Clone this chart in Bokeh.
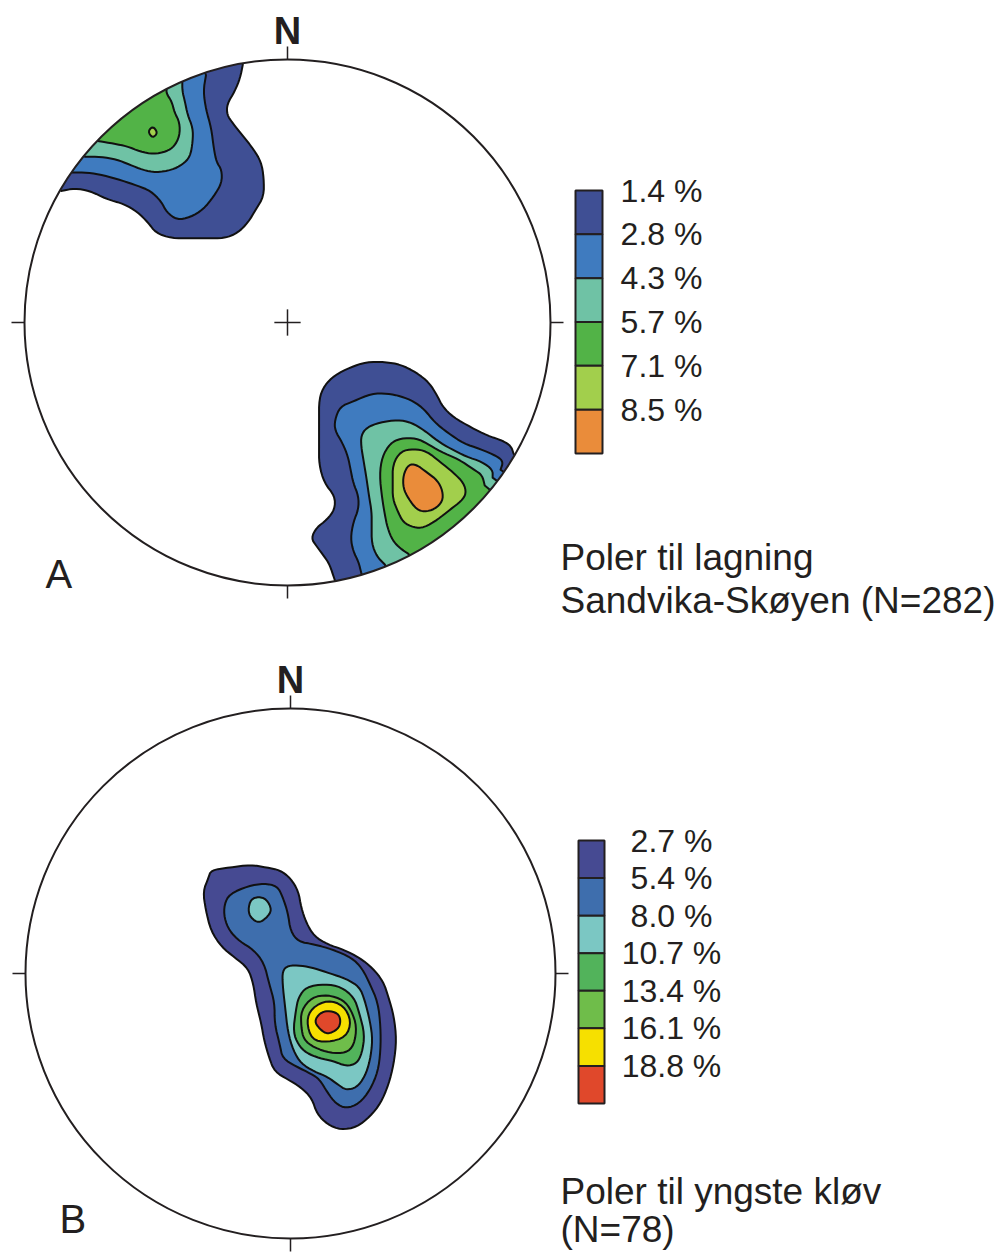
import math
from bokeh.plotting import figure
from bokeh.models import Range1d
from bokeh.embed import file_html
from bokeh.resources import INLINE
from bokeh.core.properties import value

# ---------------- DATA ----------------
# Contour outlines digitised from the nets, in net units (primitive radius = 100),
# x towards east, y towards north. Open outlines start and end on the primitive.

# Diagram A - poles to bedding
A_LEVELS = ["1.4 %", "2.8 %", "4.3 %", "5.7 %", "7.1 %", "8.5 %"]
A_COLORS = ["#3f4f94", "#3f7bbf", "#6fc2a5", "#52b347", "#a2cf4c", "#ea8c3a"]
A_TITLE = ["Poler til lagning", "Sandvika-Skøyen (N=282)"]
A_LETTER = "A"

A_NW_14 = [(-86, 50), (-81, 51), (-75, 50), (-69, 47), (-62, 45), (-57, 42), (-53, 38), (-50, 34),
           (-44, 32), (-37, 32), (-31, 32), (-24, 32), (-19, 34), (-15, 38), (-12, 43), (-9, 48),
           (-9, 55), (-10, 61), (-13, 66), (-17, 71), (-21, 76), (-23, 79), (-23, 83), (-20, 88),
           (-18, 93), (-17, 98)]
A_NW_28 = [(-82, 57), (-76, 57), (-70, 56), (-63, 54), (-57, 52), (-52, 50), (-48, 46), (-46, 42),
           (-42, 39), (-37, 40), (-32, 43), (-28, 48), (-25, 53), (-25, 58), (-27, 61), (-28, 66),
           (-29, 74), (-31, 81), (-32, 88), (-31, 94)]
A_NW_43 = [(-77, 63), (-71, 63), (-65, 62), (-60, 60), (-55, 58), (-50, 57), (-44, 58), (-40, 60),
           (-37, 63), (-36, 69), (-36, 74), (-38, 79), (-39, 84), (-40, 88), (-40, 92)]
A_NW_57 = [(-72, 69), (-66, 68), (-61, 67), (-56, 65), (-51, 64), (-46, 65), (-43, 67), (-41, 71),
           (-41, 76), (-43, 80), (-44, 84), (-46, 87), (-46, 89)]
A_NW_71 = [(-51.2, 74.7), (-49.3, 72.1), (-51.3, 70.1), (-53.1, 72.6)]

A_SE_14 = [(18, -98), (16, -92), (14, -89), (11, -85), (9, -82), (11, -78), (15, -75), (18, -71),
           (18, -66), (14, -61), (12, -54), (12, -47), (12, -38), (12, -29), (14, -24), (18, -20),
           (24, -17), (30, -15), (37, -15), (43, -16), (49, -19), (54, -23), (57, -28), (59, -32),
           (63, -36), (70, -40), (76, -43), (82, -45), (85, -47), (86, -50)]
A_SE_28 = [(28, -95), (27, -91), (25, -87), (24, -82), (25, -76), (27, -71), (27, -66), (25, -61),
           (24, -56), (23, -51), (21, -46), (18, -41), (18, -37), (20, -32), (25, -30), (32, -27),
           (38, -27), (43, -28), (48, -30), (52, -33), (56, -38), (61, -42), (67, -46), (73, -48),
           (80, -51), (82, -53), (81, -56)]
A_SE_43 = [(37, -92), (34, -89), (32, -84), (32, -77), (32, -72), (31, -66), (30, -59), (29, -53),
           (28, -47), (28, -43), (30, -40), (35, -38), (42, -37), (47, -38), (52, -41), (57, -45),
           (62, -48), (68, -51), (74, -53), (78, -56), (78, -59)]
A_SE_57 = [(46, -88), (43, -86), (40, -83), (38, -78), (37, -73), (36, -67), (35, -58), (36, -51),
           (39, -46), (43, -44), (49, -44), (53, -46), (58, -49), (65, -52), (71, -56), (74, -58),
           (75, -62)]
A_SE_71 = [(43, -49), (48, -48), (53, -49), (58, -53), (63, -57), (67, -61), (68, -65), (66, -68),
           (62, -71), (57, -75), (52, -78), (48, -78), (44, -76), (42, -72), (40, -67), (40, -61),
           (40, -54)]
A_SE_85 = [(46, -54), (49, -54), (53, -57), (57, -60), (59, -64), (59, -68), (56, -71), (52, -72),
           (49, -71), (46, -67), (44, -63), (44, -58)]

# (level index, outline, open-on-primitive)
A_CONTOURS = [(0, A_NW_14, True), (0, A_SE_14, True),
              (1, A_NW_28, True), (1, A_SE_28, True),
              (2, A_NW_43, True), (2, A_SE_43, True),
              (3, A_NW_57, True), (3, A_SE_57, True),
              (4, A_NW_71, False), (4, A_SE_71, False),
              (5, A_SE_85, False)]

# Diagram B - poles to youngest cleavage
B_LEVELS = ["2.7 %", "5.4 %", "8.0 %", "10.7 %", "13.4 %", "16.1 %", "18.8 %"]
B_COLORS = ["#464a92", "#3e6ead", "#7bc7c3", "#52b35b", "#6fbd4a", "#f6e000", "#e0482b"]
B_TITLE = ["Poler til yngste kløv", "(N=78)"]
B_LETTER = "B"

B_27 = [(-30, 39), (-23, 40), (-15, 41), (-9, 40), (-4, 39), (0, 36), (3, 31), (4, 25), (6, 19),
        (9, 14), (14, 11), (20, 9), (26, 6), (31, 2), (35, -3), (37, -9), (39, -16), (40, -25),
        (39, -34), (37, -42), (34, -49), (30, -54), (25, -58), (19, -59), (14, -57), (10, -53),
        (8, -47), (4, -43), (-1, -40), (-6, -37), (-8, -32), (-10, -25), (-11, -19), (-13, -11),
        (-14, -4), (-16, 2), (-21, 6), (-26, 10), (-30, 16), (-32, 24), (-33, 31), (-31, 36)]
B_54 = [(-23, 30), (-16, 33), (-10, 34), (-5, 33), (-3, 29), (-1, 23), (0, 16), (3, 12), (9, 11),
        (16, 9), (23, 6), (27, 2), (30, -4), (33, -11), (34, -20), (34, -29), (33, -37), (30, -44),
        (26, -49), (21, -51), (17, -49), (14, -45), (11, -40), (8, -38), (2, -35), (-3, -32),
        (-4, -27), (-6, -19), (-6, -11), (-8, -4), (-10, 4), (-14, 9), (-19, 12), (-23, 16),
        (-25, 21), (-25, 26)]
B_80_N = [(-16, 24), (-15, 28), (-12, 29), (-9, 28), (-7, 24), (-9, 21), (-12, 19), (-15, 21)]
B_80_S = [(-1, 3), (4, 3), (9, 2), (15, 0), (21, -2), (26, -5), (28, -10), (30, -18), (31, -25),
          (30, -33), (28, -39), (25, -43), (21, -44), (18, -42), (14, -39), (9, -37), (4, -34),
          (1, -29), (-1, -22), (-2, -13), (-3, -4), (-3, 1)]
B_107 = [(6, -5), (13, -4), (19, -5), (24, -9), (26, -15), (28, -23), (27, -30), (25, -34),
         (21, -35), (16, -33), (11, -32), (6, -30), (3, -27), (1, -22), (2, -14), (3, -9)]
B_134 = [(8, -9), (14, -8), (20, -10), (23, -14), (25, -20), (24, -27), (21, -30), (15, -30),
         (9, -28), (5, -25), (4, -20), (4, -14)]
B_161 = [(6, -18), (8, -13), (14, -10), (20, -12), (23, -18), (21, -24), (14, -26), (8, -25)]
B_188 = [(9, -18), (11, -15), (14, -14), (18, -15), (19, -18), (18, -21), (14, -23), (11, -21)]

B_CONTOURS = [(0, B_27, False), (1, B_54, False), (2, B_80_N, False), (2, B_80_S, False),
              (3, B_107, False), (4, B_134, False), (5, B_161, False), (6, B_188, False)]

# ---------------- LAYOUT ----------------
W, H = 1001, 1252
FONT = value("Liberation Sans")
INK = "#231f20"

NETS = [
    dict(cx=287, cy=930, r=263, levels=A_LEVELS, colors=A_COLORS, contours=A_CONTOURS,
         title=A_TITLE, letter=A_LETTER, cross=True,
         leg_x0=575, leg_x1=602, leg_top=1062, leg_bot=799, lab_x=661, lab_dy=0,
         title_x=560, title_y=[695, 652], letter_x=45, letter_y=679),
    dict(cx=290, cy=279, r=265, levels=B_LEVELS, colors=B_COLORS, contours=B_CONTOURS,
         title=B_TITLE, letter=B_LETTER, cross=False,
         leg_x0=578, leg_x1=604, leg_top=412, leg_bot=149, lab_x=671, lab_dy=0,
         title_x=560, title_y=[61, 23], letter_x=59, letter_y=34),
]


def chaikin(pts, closed, n=2):
    for _ in range(n):
        m = len(pts)
        new = [] if closed else [pts[0]]
        for i in range(m if closed else m - 1):
            p0, p1 = pts[i], pts[(i + 1) % m]
            new.append((0.75 * p0[0] + 0.25 * p1[0], 0.75 * p0[1] + 0.25 * p1[1]))
            new.append((0.25 * p0[0] + 0.75 * p1[0], 0.25 * p0[1] + 0.75 * p1[1]))
        if not closed:
            new.append(pts[-1])
        pts = new
    return pts


def outline(pts, is_open):
    pts = [(x / 100.0, y / 100.0) for x, y in pts]
    sm = chaikin(pts, not is_open)
    if not is_open:
        return sm
    ro = 1.08
    a0 = math.atan2(sm[0][1], sm[0][0])
    a1 = math.atan2(sm[-1][1], sm[-1][0])
    d = (a0 - a1 + math.pi) % (2 * math.pi) - math.pi
    head = [(ro * math.cos(a0), ro * math.sin(a0))]
    tail = [(ro * math.cos(a1), ro * math.sin(a1))]
    arc = [(ro * math.cos(a1 + d * k / 30), ro * math.sin(a1 + d * k / 30)) for k in range(1, 30)]
    return head + sm + tail + arc


p = figure(width=W, height=H, x_range=Range1d(0, W), y_range=Range1d(0, H),
           output_backend="svg", toolbar_location=None, min_border=0,
           x_axis_type=None, y_axis_type=None)
p.grid.visible = False
p.outline_line_color = None
p.background_fill_color = "white"

for net in NETS:
    cx, cy, r = net["cx"], net["cy"], net["r"]
    arm = 0.05 * r
    if net["cross"]:
        p.segment(x0=[cx - arm, cx], y0=[cy, cy - arm], x1=[cx + arm, cx], y1=[cy, cy + arm],
                  line_color=INK, line_width=1.5)
    xs, ys, fills = [], [], []
    for lev, pts, is_open in net["contours"]:
        ring = outline(pts, is_open)
        xs.append([cx + x * r for x, y in ring])
        ys.append([cy + y * r for x, y in ring])
        fills.append(net["colors"][lev])
    p.patches(xs=xs, ys=ys, fill_color=fills, line_color="#111111", line_width=2,
              line_join="round")
    # white mask outside the primitive circle
    p.annulus(x=[cx], y=[cy], inner_radius=r, outer_radius=r + 32,
              fill_color="white", line_color=None)
    p.circle(x=[cx], y=[cy], radius=r, fill_color=None, line_color=INK, line_width=2)
    # N, E, S, W ticks
    t = 13
    p.segment(x0=[cx, cx + r, cx, cx - r], y0=[cy + r, cy, cy - r, cy],
              x1=[cx, cx + r + t, cx, cx - r - t], y1=[cy + r + t, cy, cy - r - t, cy],
              line_color=INK, line_width=1.5)
    p.text(x=[cx], y=[cy + r + 29], text=["N"], text_font=FONT, text_font_size="38px",
           text_font_style="bold", text_align="center", text_baseline="alphabetic",
           text_color=INK)
    # legend bar
    n = len(net["levels"])
    step = (net["leg_top"] - net["leg_bot"]) / n
    tops = [net["leg_top"] - i * step for i in range(n)]
    bots = [tp - step for tp in tops]
    p.quad(left=[net["leg_x0"]] * n, right=[net["leg_x1"]] * n, top=tops, bottom=bots,
           fill_color=net["colors"], line_color=INK, line_width=2)
    p.text(x=[net["lab_x"]] * n, y=[tp - net["lab_dy"] for tp in tops], text=net["levels"],
           text_font=FONT, text_font_size="32px", text_align="center",
           text_baseline="alphabetic", text_color=INK)
    # title and panel letter
    p.text(x=[net["title_x"]] * 2, y=net["title_y"], text=net["title"], text_font=FONT,
           text_font_size="37px", text_align="left", text_baseline="alphabetic",
           text_color=INK)
    p.text(x=[net["letter_x"]], y=[net["letter_y"]], text=[net["letter"]], text_font=FONT,
           text_font_size="40px", text_align="left", text_baseline="alphabetic",
           text_color=INK)

open("out.html", "w").write(file_html(p, INLINE))
